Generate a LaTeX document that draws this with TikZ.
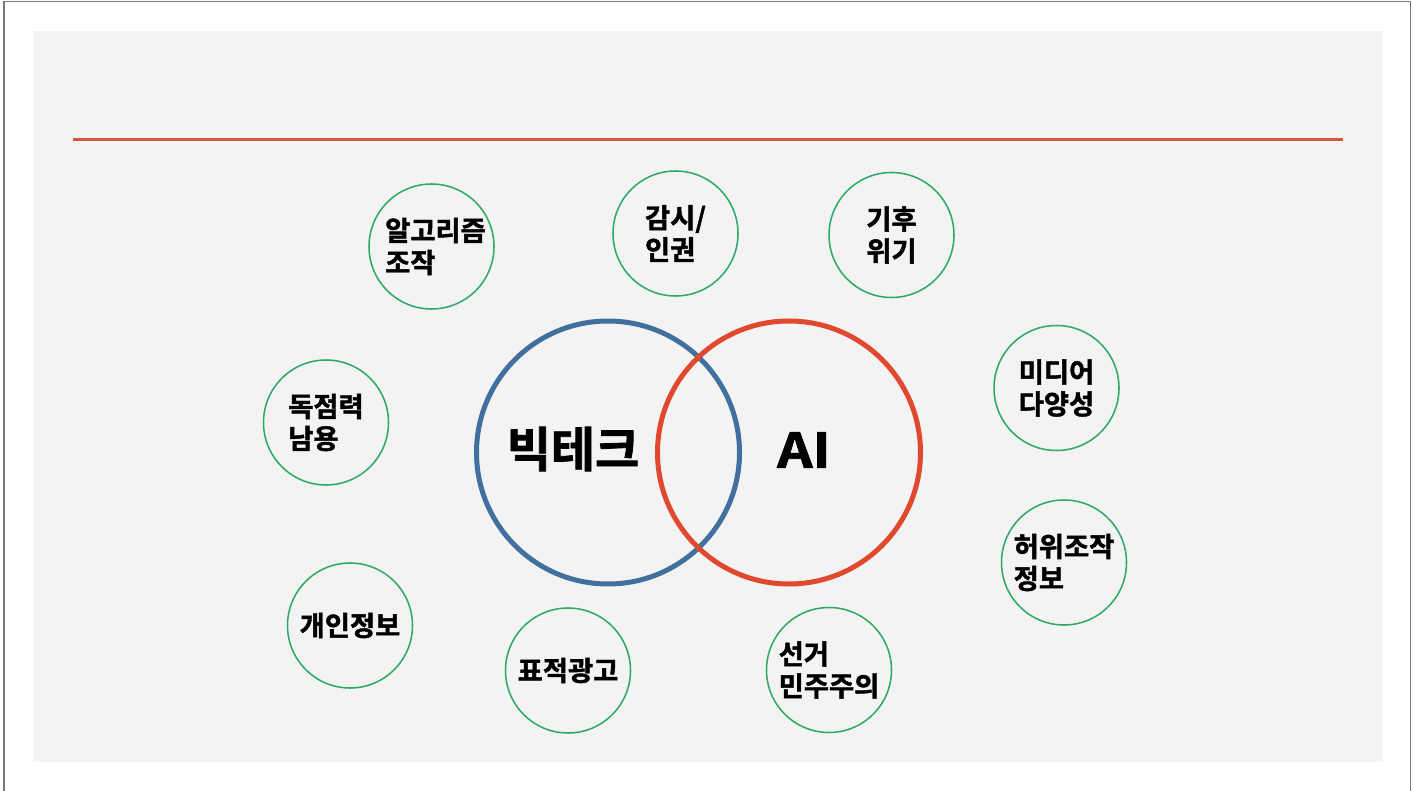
\documentclass[tikz,border=0pt]{standalone}
\usepackage{fontspec}
\setmainfont{Noto Sans CJK KR}[BoldFont={* Bold}]
\newfontfamily\kr{Noto Sans CJK KR}[BoldFont={* Bold}, BoldFeatures={FakeBold=1.6}]
\definecolor{bgpanel}{RGB}{243,243,243}
\definecolor{frameline}{RGB}{120,120,120}
\definecolor{rule}{RGB}{208,88,60}
\definecolor{techblue}{RGB}{66,112,158}
\definecolor{aired}{RGB}{224,72,48}
\definecolor{topicgreen}{RGB}{46,170,100}
\tikzset{
  topic/.style={circle, draw=topicgreen, line width=1.15pt, minimum size=93.75pt,
    inner sep=0pt, align=left, font=\kr\bfseries\fontsize{20.5}{24}\selectfont},
  bigring/.style={circle, line width=3.75pt, minimum size=197.25pt, inner sep=0pt},
  bigtext/.style={font=\kr\bfseries\fontsize{36}{40}\selectfont, inner sep=0pt},
}
\begin{document}
\begin{tikzpicture}[x=0.75pt, y=-0.75pt]
\useasboundingbox (0,0) rectangle (1413,791);
\fill[white] (0,0) rectangle (1413,791);
\draw[frameline, line width=1.1pt] (4,791) -- (4,1.5) -- (1410.5,1.5) -- (1410.5,791);
\fill[bgpanel] (33,31) rectangle (1383,762);
\coordinate (ruleL) at (73,139.3);
\coordinate (ruleR) at (1343,139.3);
\draw[rule, line width=2.25pt] (ruleL) -- (ruleR);

\node[bigring, draw=techblue] (tech) at (608,452.5) {};
\node[bigring, draw=aired] (ai) at (789,452.5) {};
\node[bigtext] (techlabel) at (573,449) {빅테크};
\node[bigtext, xscale=1.15] (ailabel) at (804,450) {AI};

\node[topic] (algo) at (431.5,246.5) {\hspace*{6pt}알고리즘\\\hspace*{6pt}조작};
\node[topic] (surv) at (675.5,233.5) {감시/\\인권};
\node[topic] (climate) at (891.5,235) {기후\\위기};
\node[topic] (media) at (1056.5,388) {미디어\\다양성};
\node[topic] (mono) at (326,422.5) {독점력\\남용};
\node[topic] (fake) at (1064,562.5) {허위조작\\정보};
\node[topic] (privacy) at (350,625.5) {개인정보};
\node[topic] (ads) at (568,670.5) {표적광고};
\node[topic] (elect) at (829,670) {선거\\민주주의};
\end{tikzpicture}
\end{document}
